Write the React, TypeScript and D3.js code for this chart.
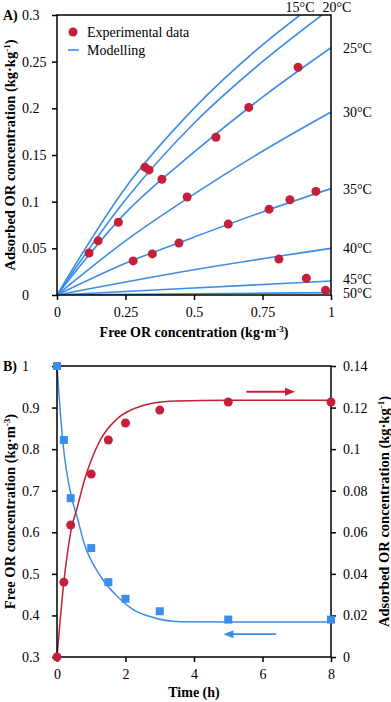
import React, { useEffect, useRef } from 'react';
import * as d3 from 'd3';

const W = 391;
const H = 702;
const BLUE = '#3b8de8';
const RED = '#c41f3b';
const FONT = '"Liberation Serif", "Times New Roman", serif';

// ---- panel A: isotherms ----
const expFree = [0.117, 0.15, 0.224, 0.321, 0.336, 0.383, 0.475, 0.58, 0.7, 0.88, 0.278, 0.348, 0.445, 0.625, 0.774, 0.85, 0.945, 0.81, 0.91, 0.98];
const expAds = [0.045, 0.058, 0.078, 0.137, 0.134, 0.124, 0.105, 0.169, 0.201, 0.244, 0.0365, 0.044, 0.0557, 0.076, 0.092, 0.102, 0.111, 0.0385, 0.018, 0.005];

const isoTemps = ['15', '20', '25', '30', '35', '40', '45', '50'];
const isoFree = [
  [0, 0.25, 0.5, 0.75, 0.887],
  [0, 0.25, 0.5, 0.75, 0.967],
  [0, 0.25, 0.5, 0.75, 1],
  [0, 0.25, 0.5, 0.75, 1],
  [0, 0.25, 0.5, 0.75, 1],
  [0, 0.5, 1],
  [0, 0.5, 1],
  [0, 0.5, 1],
];
const isoAds = [
  [0, 0.115, 0.2, 0.268, 0.3],
  [0, 0.102, 0.184, 0.25, 0.3],
  [0, 0.088, 0.153, 0.212, 0.265],
  [0, 0.058, 0.108, 0.154, 0.196],
  [0, 0.034, 0.062, 0.089, 0.114],
  [0, 0.027, 0.05],
  [0, 0.0075, 0.015],
  [0, 0.0013, 0.0025],
];
const xTicksA = [0, 0.25, 0.5, 0.75, 1];
const yTicksA = [0, 0.05, 0.1, 0.15, 0.2, 0.25, 0.3];

// ---- panel B: kinetics ----
const timeH = [0, 0.2, 0.4, 1, 1.5, 2, 3, 5, 8];
const freeConc = [1, 0.822, 0.682, 0.562, 0.48, 0.44, 0.41, 0.39, 0.39];
const adsConc = [0, 0.036, 0.0635, 0.088, 0.1044, 0.1126, 0.1188, 0.1227, 0.1227];

const freeModelT = [0, 0.165, 0.43, 0.58, 0.79, 1.28, 1.77, 2.25, 2.73, 3.6, 5, 8];
const freeModel = [1, 0.822, 0.682, 0.639, 0.574, 0.493, 0.445, 0.413, 0.397, 0.385, 0.384, 0.384];
const adsModelT = [0, 0.2, 0.4, 0.6, 0.8, 1.25, 1.75, 2.25, 2.75, 3.5, 5, 8];
const adsModel = [0, 0.036, 0.06, 0.0725, 0.085, 0.104, 0.1145, 0.1195, 0.122, 0.1232, 0.1235, 0.1235];

const xTicksB = [0, 2, 4, 6, 8];
const yTicksBLeft = [0.3, 0.4, 0.5, 0.6, 0.7, 0.8, 0.9, 1];
const yTicksBRight = [0, 0.02, 0.04, 0.06, 0.08, 0.1, 0.12, 0.14];

// arrows: [t start, t end, value]
const redArrow = [5.53, 6.95, 0.1276];
const blueArrow = [6.4, 4.86, 0.355];

function styleAxis(g: any) {
  g.select('.domain').remove();
  g.selectAll('line').attr('stroke', '#000').attr('stroke-width', 1.5);
  g.selectAll('text').attr('font-family', FONT).attr('font-size', 14).attr('fill', '#000');
}

function rotatedTitle(svg: any, x: number, y: number, main: string, sup: string) {
  const t = svg.append('text')
    .attr('transform', `translate(${x},${y}) rotate(-90)`)
    .attr('text-anchor', 'middle')
    .attr('font-family', FONT).attr('font-size', 14.5).attr('font-weight', 'bold');
  t.append('tspan').text(main);
  t.append('tspan').attr('dy', -5).attr('font-size', 9).text(sup);
  t.append('tspan').attr('dy', 5).text(')');
}

function doChart(el: SVGSVGElement) {
  const svg = d3.select(el);
  svg.selectAll('*').remove();
  const left = 57, right = 331;

  // ================= panel A =================
  const topA = 15, botA = 295;
  const xA = d3.scaleLinear().domain([0, 1]).range([left, right]);
  const yA = d3.scaleLinear().domain([0, 0.3]).range([botA, topA]);

  svg.append('defs').append('clipPath').attr('id', 'clipA')
    .append('rect').attr('x', left).attr('y', topA).attr('width', right - left).attr('height', botA - topA);

  const line = d3.line<[number, number]>().x(d => xA(d[0])).y(d => yA(d[1])).curve(d3.curveMonotoneX);
  const curves = svg.append('g').attr('clip-path', 'url(#clipA)');
  isoFree.forEach((xs, i) => {
    const pts = xs.map((v, j) => [v, isoAds[i][j]] as [number, number]);
    curves.append('path').attr('d', line(pts)).attr('fill', 'none')
      .attr('stroke', BLUE).attr('stroke-width', 1.6);
  });

  svg.append('g').attr('transform', `translate(0,${botA})`)
    .call(d3.axisBottom(xA).tickValues(xTicksA).tickSize(5).tickPadding(7).tickSizeOuter(0).tickFormat(d => String(d)))
    .call(styleAxis);
  const yaxA = svg.append('g').attr('transform', `translate(${left},0)`)
    .call(d3.axisLeft(yA).tickValues(yTicksA).tickSize(5).tickSizeOuter(0).tickFormat(d => String(d)))
    .call(styleAxis);
  yaxA.selectAll('text').attr('text-anchor', 'start').attr('x', 22 - left);

  svg.append('rect').attr('x', left).attr('y', topA).attr('width', right - left).attr('height', botA - topA)
    .attr('fill', 'none').attr('stroke', '#000').attr('stroke-width', 1.5);

  svg.append('g').selectAll('circle').data(expFree).join('circle')
    .attr('cx', d => xA(d)).attr('cy', (d, i) => yA(expAds[i])).attr('r', 4.5).attr('fill', RED);

  // temperature labels
  isoTemps.forEach((tmp, i) => {
    const xs = isoFree[i], ys = isoAds[i];
    const lastX = xs[xs.length - 1], lastY = ys[ys.length - 1];
    const t = svg.append('text').attr('font-family', FONT).attr('font-size', 14).text(tmp + '°C');
    if (lastY >= 0.3) {
      t.attr('x', xA(lastX) + (i === 1 ? 15 : 0)).attr('y', 12).attr('text-anchor', 'middle');
    } else {
      t.attr('x', 343).attr('y', yA(lastY) + 5 - (tmp === '45' ? 2 : 0));
    }
  });

  // legend
  svg.append('circle').attr('cx', 73).attr('cy', 32).attr('r', 4.5).attr('fill', RED);
  svg.append('text').attr('x', 87).attr('y', 37).attr('font-family', FONT).attr('font-size', 14).text('Experimental data');
  svg.append('line').attr('x1', 68).attr('x2', 79).attr('y1', 50).attr('y2', 50).attr('stroke', BLUE).attr('stroke-width', 1.6);
  svg.append('text').attr('x', 87).attr('y', 55).attr('font-family', FONT).attr('font-size', 14).text('Modelling');

  // titles
  svg.append('text').attr('x', 3).attr('y', 20).attr('font-family', FONT).attr('font-size', 14).attr('font-weight', 'bold').text('A)');
  const xtA = svg.append('text').attr('x', (left + right) / 2).attr('y', 337).attr('text-anchor', 'middle')
    .attr('font-family', FONT).attr('font-size', 14).attr('font-weight', 'bold');
  xtA.append('tspan').text('Free OR concentration (kg·m');
  xtA.append('tspan').attr('dy', -5).attr('font-size', 9).text('-3');
  xtA.append('tspan').attr('dy', 5).text(')');
  rotatedTitle(svg, 15, (topA + botA) / 2, 'Adsorbed OR concentration (kg·kg', '-1');

  // ================= panel B =================
  const topB = 366, botB = 657;
  const xB = d3.scaleLinear().domain([0, 8]).range([left, right]);
  const yL = d3.scaleLinear().domain([0.3, 1]).range([botB, topB]);
  const yR = d3.scaleLinear().domain([0, 0.14]).range([botB, topB]);

  const lineL = d3.line<number>().x((d, i) => xB(freeModelT[i])).y(d => yL(d)).curve(d3.curveMonotoneX);
  const lineR = d3.line<number>().x((d, i) => xB(adsModelT[i])).y(d => yR(d)).curve(d3.curveMonotoneX);
  svg.append('path').attr('d', lineL(freeModel)).attr('fill', 'none').attr('stroke', BLUE).attr('stroke-width', 1.5);
  svg.append('path').attr('d', lineR(adsModel)).attr('fill', 'none').attr('stroke', RED).attr('stroke-width', 1.5);

  svg.append('g').attr('transform', `translate(0,${botB})`)
    .call(d3.axisBottom(xB).tickValues(xTicksB).tickSize(5).tickPadding(7).tickSizeOuter(0).tickFormat(d => String(d)))
    .call(styleAxis);
  const yaxB = svg.append('g').attr('transform', `translate(${left},0)`)
    .call(d3.axisLeft(yL).tickValues(yTicksBLeft).tickSize(5).tickSizeOuter(0).tickFormat(d => String(d)))
    .call(styleAxis);
  yaxB.selectAll('text').attr('text-anchor', 'start').attr('x', 22 - left);
  svg.append('g').attr('transform', `translate(${right},0)`)
    .call(d3.axisRight(yR).tickValues(yTicksBRight).tickSize(5).tickPadding(7).tickSizeOuter(0).tickFormat(d => String(d)))
    .call(styleAxis);

  svg.append('rect').attr('x', left).attr('y', topB).attr('width', right - left).attr('height', botB - topB)
    .attr('fill', 'none').attr('stroke', '#000').attr('stroke-width', 1.5);

  svg.append('g').selectAll('rect').data(timeH).join('rect')
    .attr('x', d => xB(d) - 4).attr('y', (d, i) => yL(freeConc[i]) - 4)
    .attr('width', 8).attr('height', 8).attr('fill', BLUE);
  svg.append('g').selectAll('circle').data(timeH).join('circle')
    .attr('cx', d => xB(d)).attr('cy', (d, i) => yR(adsConc[i])).attr('r', 4.5).attr('fill', RED);

  // arrows
  const arrow = (x1: number, x2: number, y: number, color: string) => {
    const dir = Math.sign(x2 - x1);
    svg.append('line').attr('x1', x1).attr('x2', x2 - dir * 6).attr('y1', y).attr('y2', y)
      .attr('stroke', color).attr('stroke-width', 1.8);
    svg.append('path').attr('d', `M${x2},${y} L${x2 - dir * 10},${y - 4} L${x2 - dir * 10},${y + 4} Z`).attr('fill', color);
  };
  arrow(xB(redArrow[0]), xB(redArrow[1]), yR(redArrow[2]), RED);
  arrow(xB(blueArrow[0]), xB(blueArrow[1]), yL(blueArrow[2]), BLUE);

  svg.append('text').attr('x', 3).attr('y', 371).attr('font-family', FONT).attr('font-size', 14).attr('font-weight', 'bold').text('B)');
  svg.append('text').attr('x', (left + right) / 2).attr('y', 697).attr('text-anchor', 'middle')
    .attr('font-family', FONT).attr('font-size', 14).attr('font-weight', 'bold').text('Time (h)');
  rotatedTitle(svg, 15, (topB + botB) / 2, 'Free OR concentration (kg·m', '-3');
  rotatedTitle(svg, 389, (topB + botB) / 2, 'Adsorbed OR concentration (kg·kg', '-1');
}

export default function App() {
  const ref = useRef<SVGSVGElement>(null);
  useEffect(() => {
    if (ref.current) doChart(ref.current);
  }, []);
  return (
    <svg ref={ref} width={W} height={H}
      style={{ position: 'absolute', left: 0, top: 0, background: '#fff' }} />
  );
}
